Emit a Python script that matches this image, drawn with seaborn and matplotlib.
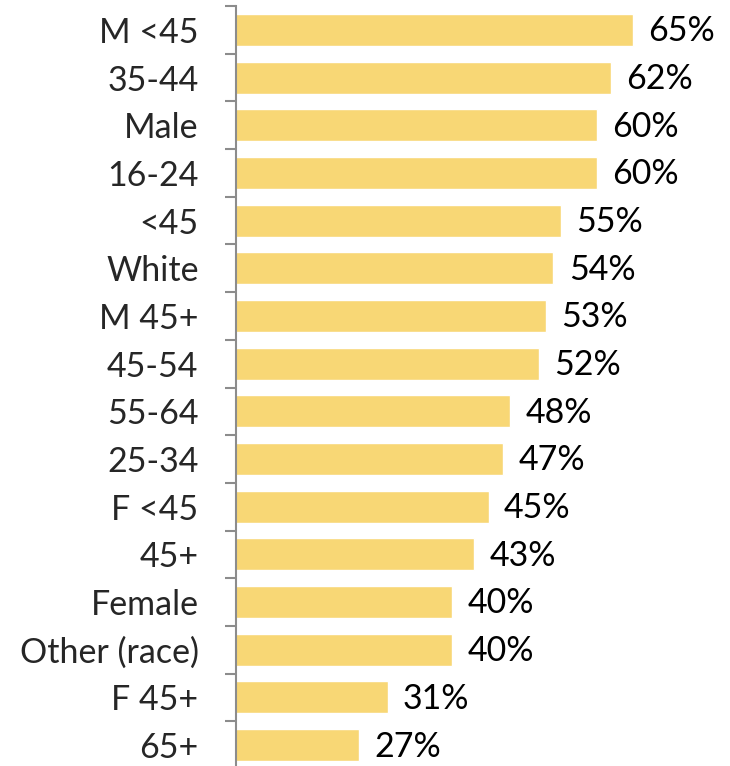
import numpy as np
import pandas as pd
import matplotlib.pyplot as plt
import seaborn as sns

groups = ["M <45", "35-44", "Male", "16-24", "<45", "White", "M 45+", "45-54",
          "55-64", "25-34", "F <45", "45+", "Female", "Other (race)", "F 45+", "65+"]
shares = [65, 62, 60, 60, 55, 54, 53, 52, 48, 47, 45, 43, 40, 40, 31, 27]

df = pd.DataFrame({"Group": groups, "Share": shares})

sns.set_style("white")
plt.rcParams["font.family"] = ["Lato", "DejaVu Sans"]

fig = plt.figure(figsize=(7.3, 7.66), dpi=100)
ax = fig.add_axes([236 / 730, -3 / 766, (705 - 236) / 730, 763 / 766])

sns.barplot(data=df, x="Share", y="Group", color="#F8D775", saturation=1,
            width=0.67, ax=ax)

ax.set_xlim(10, 75)
ax.set_ylim(len(groups) - 0.5, -0.5)

for i, v in enumerate(shares):
    ax.annotate(f"{v}%", (v, i), xytext=(11, -1), textcoords="offset points",
                va="center", ha="left", fontsize=24.5, color="black")

ax.set_xlabel("")
ax.set_ylabel("")
ax.set_xticks([])
ax.tick_params(axis="y", which="major", length=0, labelsize=24.5, pad=27)
ax.set_yticks(np.arange(-0.5, len(groups), 1), minor=True)
ax.tick_params(axis="y", which="minor", left=True, length=8, width=1.5,
               color="#8c8c8c")
for s in ["top", "right", "bottom"]:
    ax.spines[s].set_visible(False)
ax.spines["left"].set_color("#8c8c8c")
ax.spines["left"].set_linewidth(1.5)

fig.savefig("out.png", dpi=100)
